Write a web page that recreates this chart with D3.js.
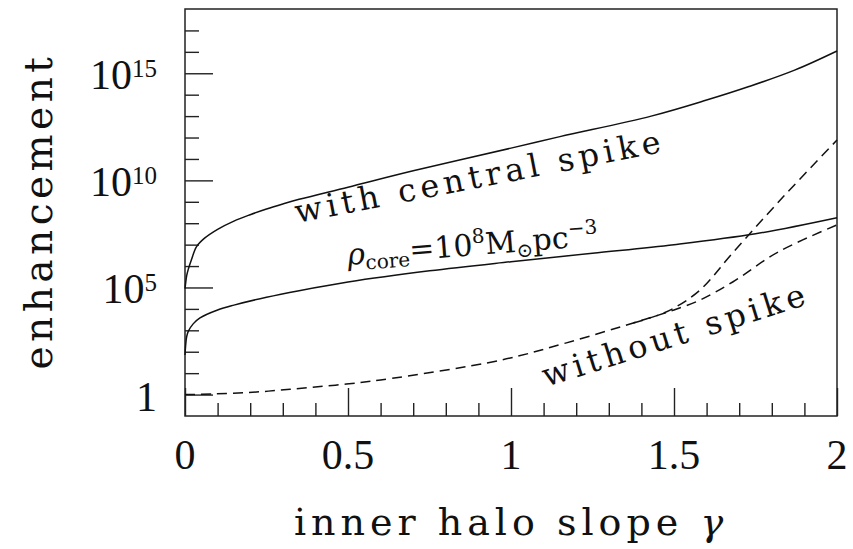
<!DOCTYPE html>
<html>
<head>
<meta charset="utf-8">
<script src="https://cdn.jsdelivr.net/npm/d3@7"></script>
<style>
  body { margin: 0; background: #fff; }
  text { fill: #111; }
</style>
</head>
<body>
<div id="container"></div>
<script>
// gamma values and enhancement
let spike_g = [0, 0.002, 0.005, 0.01, 0.02, 0.035, 0.06, 0.1, 0.15, 0.2, 0.25, 0.3, 0.35, 0.5, 0.7, 1.0, 1.15, 1.43, 1.6, 1.73, 1.87, 2.0]
let spike_v = [8.9e4, 1.6e5, 3.5e5, 7.0e5, 2.0e6, 7.9e6, 2.0e7, 5.2e7, 1.26e8, 2.5e8, 4.6e8, 7.9e8, 1.3e9, 4.8e9, 2.8e10, 3.2e11, 1.1e12, 1.0e13, 5.6e13, 2.4e14, 1.4e15, 1.1e16]

let core_g = [0, 0.002, 0.005, 0.01, 0.025, 0.046, 0.1, 0.15, 0.25, 0.35, 0.5, 0.75, 1.0, 1.25, 1.5, 1.75, 2.0]
let core_v = [71, 200, 500, 890, 2000, 3800, 8900, 1.5e4, 3.5e4, 7.1e4, 1.8e5, 6.0e5, 1.6e6, 4.0e6, 1.0e7, 3.2e7, 1.8e8]

let nospike_g = [0, 0.085, 0.19, 0.29, 0.39, 0.495, 0.6, 0.97, 1.17, 1.375, 1.45, 1.5, 1.58, 1.68, 1.82, 2.0]
let nospike_v = [1, 1.07, 1.23, 1.6, 2.2, 3.1, 4.8, 41, 260, 2200, 5000, 8900, 2.6e4, 1.8e5, 4.6e6, 8.3e7]

let branch_g = [1.375, 1.45, 1.5, 1.58, 1.68, 1.835, 2.0]
let branch_v = [2200, 5000, 1.1e4, 7.6e4, 4.1e6, 1.7e9, 7.6e11]

let x_major = [0, 0.5, 1, 1.5, 2]
let x_labels = ['0', '0.5', '1', '1.5', '2']
let y_major = [1, 1e5, 1e10, 1e15]
let y_exp = ['', '5', '10', '15']

let width = 853,
  height = 549,
  plot = { left: 185, top: 9, right: 837, bottom: 416 }

let svg = d3.select('#container')
  .append('svg')
  .attr('width', width)
  .attr('height', height)

let scale_x = d3.scaleLinear()
  .domain([0, 2])
  .range([plot.left, plot.right])

let scale_y = d3.scaleLog()
  .domain([1e-1, 1e18])
  .range([plot.bottom, plot.top])

// minor ticks: every 0.1 in gamma, every decade in y
let x_minor = d3.range(1, 20).map(i => i / 10).filter(v => Math.abs(v * 2 - Math.round(v * 2)) > 1e-6)
let y_minor = d3.range(0, 18).map(i => Math.pow(10, i)).filter(v => y_major.indexOf(v) < 0)

let ticks = svg.append('g')

ticks.append('g')
  .attr('transform', 'translate(0,' + plot.bottom + ')')
  .call(d3.axisBottom(scale_x).tickValues(x_minor).tickSize(-13).tickFormat(''))
ticks.append('g')
  .attr('transform', 'translate(0,' + plot.bottom + ')')
  .call(d3.axisBottom(scale_x).tickValues(x_major).tickSize(-28).tickFormat(''))
ticks.append('g')
  .attr('transform', 'translate(' + plot.left + ',0)')
  .call(d3.axisLeft(scale_y).tickValues(y_minor).tickSize(-14).tickFormat(''))
ticks.append('g')
  .attr('transform', 'translate(' + plot.left + ',0)')
  .call(d3.axisLeft(scale_y).tickValues(y_major).tickSize(-28).tickFormat(''))
ticks.selectAll('.domain').remove()
ticks.selectAll('line').attr('stroke', '#222').attr('stroke-width', 1.4)

// frame
svg.append('rect')
  .attr('x', plot.left)
  .attr('y', plot.top)
  .attr('width', plot.right - plot.left)
  .attr('height', plot.bottom - plot.top)
  .attr('fill', 'none')
  .attr('stroke', '#222')
  .attr('stroke-width', 1.5)

// tick labels
svg.append('g')
  .selectAll('text')
  .data(x_major).enter().append('text')
  .attr('x', d => scale_x(d))
  .attr('y', 469)
  .attr('text-anchor', 'middle')
  .style('font-family', '"Liberation Serif", serif')
  .style('font-size', '42px')
  .text((d, i) => x_labels[i])

let ylab = svg.append('g')
  .selectAll('text')
  .data(y_major).enter().append('text')
  .attr('x', 157)
  .attr('y', d => scale_y(d) + 16)
  .attr('text-anchor', 'end')
  .style('font-family', '"Liberation Serif", serif')
  .style('font-size', '42px')
ylab.append('tspan').text((d, i) => i == 0 ? '1' : '10')
ylab.append('tspan')
  .attr('dy', -12)
  .style('font-size', '25px')
  .text((d, i) => y_exp[i])

// axis titles
svg.append('text')
  .attr('x', (plot.left + plot.right) / 2)
  .attr('y', 535)
  .attr('text-anchor', 'middle')
  .style('font-family', '"DejaVu Serif", serif')
  .style('font-size', '38px')
  .style('letter-spacing', '5px')
  .text('inner halo slope ')
  .append('tspan').style('font-style', 'italic').text('γ')

svg.append('text')
  .attr('transform', 'translate(52,211) rotate(-90)')
  .attr('text-anchor', 'middle')
  .style('font-family', '"DejaVu Serif", serif')
  .style('font-size', '39px')
  .style('letter-spacing', '4.5px')
  .text('enhancement')

// curves
let line_generator = d3.line()
  .x(d => scale_x(d[0]))
  .y(d => scale_y(d[1]))
  .curve(d3.curveCatmullRom.alpha(0.5))

let curves = [
  { g: spike_g, v: spike_v, dash: null },
  { g: core_g, v: core_v, dash: null },
  { g: nospike_g, v: nospike_v, dash: '10,6' },
  { g: branch_g, v: branch_v, dash: '10,6' }
]

svg.append('g')
  .selectAll('path')
  .data(curves).enter().append('path')
  .attr('d', c => line_generator(c.g.map((g, i) => [g, c.v[i]])))
  .attr('fill', 'none')
  .attr('stroke', '#111')
  .attr('stroke-width', 1.5)
  .attr('stroke-dasharray', c => c.dash)

// annotations
let note = (x, y, angle) => svg.append('text')
  .attr('transform', 'translate(' + x + ',' + y + ') rotate(' + angle + ')')
  .style('font-family', '"DejaVu Serif", serif')
  .style('font-size', '32px')

note(297, 223, -11)
  .attr('textLength', 372)
  .attr('lengthAdjust', 'spacing')
  .text('with central spike')

note(546, 387, -17.5)
  .attr('textLength', 274)
  .attr('lengthAdjust', 'spacing')
  .text('without spike')

let rho = note(348, 265, -4.5).style('font-size', '30px')
rho.append('tspan').style('font-style', 'italic').text('ρ')
rho.append('tspan').attr('dy', 6).style('font-size', '20px').text('core')
rho.append('tspan').attr('dy', -6).text('=10')
rho.append('tspan').attr('dy', -12).style('font-size', '20px').text('8')
rho.append('tspan').attr('dy', 12).text('M')
rho.append('tspan').attr('dy', 6).style('font-size', '20px').text('⊙')
rho.append('tspan').attr('dy', -6).text('pc')
rho.append('tspan').attr('dy', -12).style('font-size', '20px').text('−3')
</script>
</body>
</html>
